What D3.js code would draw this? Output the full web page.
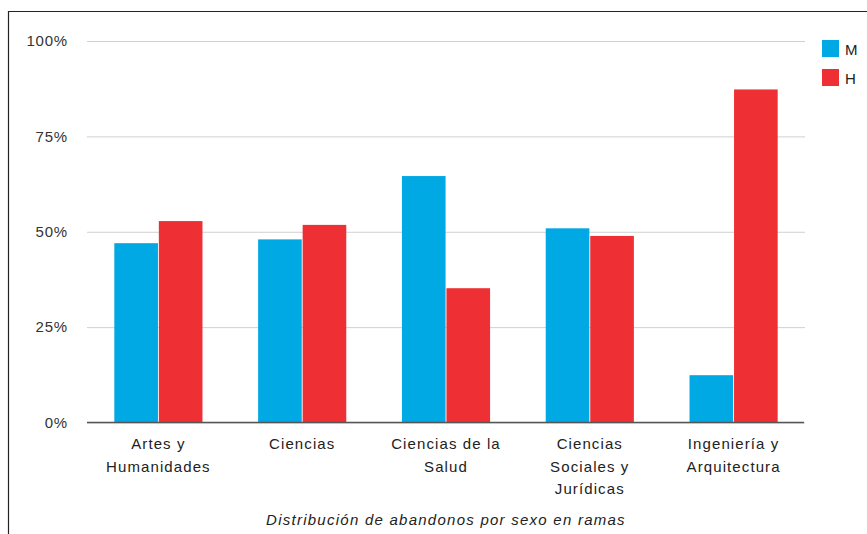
<!DOCTYPE html>
<html>
<head>
<meta charset="utf-8">
<script src="https://cdn.jsdelivr.net/npm/d3@7"></script>
<style>
  body { margin: 0; background: #fff; }
  svg { display: block; font-family: "Liberation Sans", Arial, sans-serif; }
</style>
</head>
<body>
<svg id="chart" width="867" height="534"></svg>
<script>
// Chart data
const categories = [
  ['Artes y', 'Humanidades'],
  ['Ciencias'],
  ['Ciencias de la', 'Salud'],
  ['Ciencias', 'Sociales y', 'Jurídicas'],
  ['Ingeniería y', 'Arquitectura'],
];
const seriesNames = ['M', 'H'];
const valuesM = [47.0, 48.0, 64.6, 50.9, 12.4];
const valuesH = [52.8, 51.8, 35.2, 48.9, 87.3];
const yTicks = [0, 25, 50, 75, 100];
const title = 'Distribución de abandonos por sexo en ramas';

const colors = { M: '#00a8e4', H: '#ee3034' };

const svg = d3.select('#chart');
const W = 867, H = 534;
const plot = { left: 87, right: 805, top: 41, bottom: 422.5 };

// frame around the chart
svg.append('path')
  .attr('d', `M8.5,${H} V11.5 H${W}`)
  .attr('fill', 'none')
  .attr('stroke', '#222')
  .attr('stroke-width', 1.2);

const idx = d3.range(categories.length);
const x = d3.scaleBand()
  .domain(idx)
  .range([plot.left, plot.right])
  .paddingInner(0.387)
  .paddingOuter(0.19);
const xSub = d3.scaleBand()
  .domain(seriesNames)
  .range([0, x.bandwidth()])
  .paddingInner(0.02);
const y = d3.scaleLinear().domain([0, 100]).range([plot.bottom, plot.top]);

// gridlines + y labels
const yAxis = d3.axisLeft(y)
  .tickValues(yTicks)
  .tickSize(-(plot.right - plot.left))
  .tickPadding(19)
  .tickFormat(d => d + '%');
const gy = svg.append('g')
  .attr('transform', `translate(${plot.left},0)`)
  .call(yAxis);
gy.select('.domain').remove();
gy.selectAll('.tick line').attr('stroke', '#d0d0d0').attr('stroke-width', 1);
gy.selectAll('.tick text')
  .attr('fill', '#333')
  .attr('font-size', 15)
  .attr('letter-spacing', 0.8);

// bars
const rows = idx.map(i => ({ i, M: valuesM[i], H: valuesH[i] }));
const groups = svg.append('g').selectAll('g')
  .data(rows)
  .join('g')
  .attr('transform', d => `translate(${x(d.i)},0)`);

groups.selectAll('rect')
  .data(d => seriesNames.map(s => ({ s, v: d[s] })))
  .join('rect')
  .attr('x', d => xSub(d.s))
  .attr('y', d => y(d.v))
  .attr('width', xSub.bandwidth())
  .attr('height', d => y(0) - y(d.v))
  .attr('fill', d => colors[d.s]);

// baseline
svg.append('line')
  .attr('x1', plot.left).attr('x2', plot.right - 1)
  .attr('y1', y(0)).attr('y2', y(0))
  .attr('stroke', '#555')
  .attr('stroke-width', 1.4);

// x labels
const xl = svg.append('g').selectAll('text')
  .data(idx)
  .join('text')
  .attr('x', i => x(i) + x.bandwidth() / 2)
  .attr('y', 449)
  .attr('text-anchor', 'middle')
  .attr('font-size', 15)
  .attr('letter-spacing', 1.1)
  .attr('fill', '#222');
xl.selectAll('tspan')
  .data(i => categories[i])
  .join('tspan')
  .attr('x', function () { return d3.select(this.parentNode).attr('x'); })
  .attr('dy', (d, j) => j === 0 ? 0 : 22.5)
  .text(d => d);

// title
svg.append('text')
  .attr('x', (plot.left + plot.right) / 2)
  .attr('y', 525)
  .attr('text-anchor', 'middle')
  .attr('font-size', 15)
  .attr('font-style', 'italic')
  .attr('letter-spacing', 1.25)
  .attr('fill', '#222')
  .text(title);

// legend
const legend = svg.append('g').selectAll('g')
  .data(seriesNames)
  .join('g')
  .attr('transform', (d, i) => `translate(822,${40 + i * 29})`);
legend.append('rect')
  .attr('width', 17).attr('height', 17)
  .attr('fill', d => colors[d]);
legend.append('text')
  .attr('x', 23).attr('y', 14.5)
  .attr('font-size', 15)
  .attr('fill', '#222')
  .text(d => d);
</script>
</body>
</html>
